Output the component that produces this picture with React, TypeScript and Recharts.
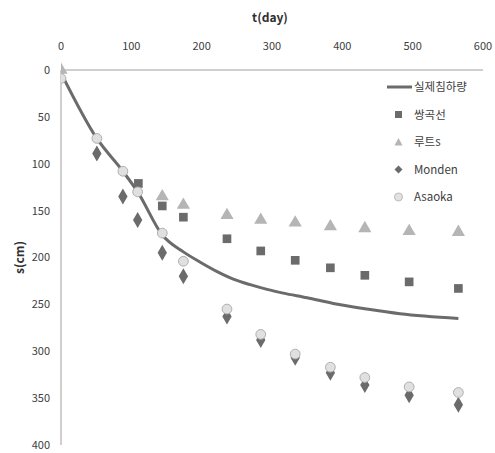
import {
  ComposedChart,
  Line,
  Scatter,
  XAxis,
  YAxis,
  ZAxis,
} from 'recharts'

// 실제침하량 (measured settlement curve)
const measuredT = [0, 51, 88, 109, 144, 174, 198, 222, 245, 269, 293, 316, 350, 387, 435, 482, 565]
const measuredS = [3, 73, 108, 130, 176, 194, 205, 215, 223, 229, 234, 238, 243, 249, 255, 260, 265]

// 쌍곡선
const hyperT = [110, 144, 174, 236, 284, 333, 383, 432, 495, 565]
const hyperS = [121, 145, 157, 180, 193, 203, 211, 219, 226, 233]

// 루트s
const rootT = [0, 144, 174, 236, 284, 333, 383, 432, 495, 565]
const rootS = [0, 135, 144, 155, 160, 163, 167, 169, 172, 173]

// Monden
const mondenT = [51, 88, 109, 144, 174, 236, 284, 333, 383, 432, 495, 565]
const mondenS = [89, 135, 160, 195, 220, 263, 288, 307, 323, 336, 347, 357]

// Asaoka
const asaokaT = [0, 51, 88, 109, 144, 174, 236, 284, 333, 383, 432, 495, 565]
const asaokaS = [9, 73, 108, 130, 174, 204, 255, 282, 303, 317, 328, 338, 344]

const xTicks = [0, 100, 200, 300, 400, 500, 600]
const yTicks = [0, 50, 100, 150, 200, 250, 300, 350, 400]

const zip = (t: number[], s: number[]) => t.map((v, i) => ({ t: v, s: s[i] }))

const FONT = '"Noto Sans CJK KR", "Noto Sans", sans-serif'
const DARK = '#6b6b6b'
const LIGHT = '#b5b5b5'

function LegendBox() {
  const rows = [
    { label: '실제침하량', kind: 'line' },
    { label: '쌍곡선', kind: 'square' },
    { label: '루트s', kind: 'triangle' },
    { label: 'Monden', kind: 'diamond' },
    { label: 'Asaoka', kind: 'circle' },
  ]
  return (
    <svg width={110} height={130} style={{ display: 'block' }}>
      {rows.map((r, i) => {
        const cy = 8 + i * 27.5
        let mark = null
        if (r.kind === 'line') mark = <line x1={2} x2={27} y1={cy} y2={cy} stroke={DARK} strokeWidth={3} />
        if (r.kind === 'square') mark = <rect x={10} y={cy - 3.5} width={7} height={7} fill={DARK} />
        if (r.kind === 'triangle') mark = <polygon points={`${13.5},${cy - 4} ${17.5},${cy + 3.5} ${9.5},${cy + 3.5}`} fill={LIGHT} />
        if (r.kind === 'diamond') mark = <polygon points={`${13.5},${cy - 4} ${17.5},${cy} ${13.5},${cy + 4} ${9.5},${cy}`} fill={DARK} />
        if (r.kind === 'circle') mark = <circle cx={13.5} cy={cy} r={4} fill="#e2e2e2" stroke="#bbbbbb" />
        return (
          <g key={r.label}>
            {mark}
            <text x={29} y={cy + 4} fontSize={11.5} fill="#404040" fontFamily={FONT}>{r.label}</text>
          </g>
        )
      })}
    </svg>
  )
}

export default function App() {
  return (
    <div style={{ position: 'absolute', left: 0, top: 0, width: 495, height: 453, background: '#fff' }}>
      <ComposedChart width={495} height={453} margin={{ top: 40, right: 12, bottom: 8, left: 21 }}>
        <XAxis
          type="number"
          dataKey="t"
          orientation="top"
          domain={[0, 600]}
          ticks={xTicks}
          height={30}
          tickLine={false}
          tickSize={0}
          tickMargin={20}
          stroke="#a0a0a0"
          tick={{ fontSize: 11, fill: '#404040', fontFamily: FONT }}
          allowDataOverflow
        />
        <YAxis
          type="number"
          dataKey="s"
          reversed
          domain={[0, 400]}
          ticks={yTicks}
          width={40}
          tickLine={false}
          tickSize={0}
          tickMargin={11}
          stroke="#a0a0a0"
          tick={{ fontSize: 11, fill: '#404040', fontFamily: FONT }}
        />
        <ZAxis range={[75, 75]} />
        <Line
          data={zip(measuredT, measuredS)}
          dataKey="s"
          type="monotone"
          stroke={DARK}
          strokeWidth={3}
          dot={false}
          activeDot={false}
          isAnimationActive={false}
        />
        <Scatter data={zip(hyperT, hyperS)} dataKey="s" shape="square" fill={DARK} isAnimationActive={false} />
        <Scatter data={zip(rootT, rootS)} dataKey="s" shape="triangle" fill={LIGHT} isAnimationActive={false} />
        <Scatter data={zip(mondenT, mondenS)} dataKey="s" shape="diamond" fill={DARK} isAnimationActive={false} />
        <Scatter data={zip(asaokaT, asaokaS)} dataKey="s" shape="circle" fill="#e0e0e0" stroke="#b0b0b0" isAnimationActive={false} />
      </ComposedChart>
      <div style={{ position: 'absolute', left: 385, top: 79 }}>
        <LegendBox />
      </div>
      <div
        style={{
          position: 'absolute', left: 245, top: 8, width: 50, textAlign: 'center',
          fontFamily: FONT, fontWeight: 'bold', fontSize: 12, color: '#303030',
        }}
      >
        t(day)
      </div>
      <div
        style={{
          position: 'absolute', left: -7, top: 249, width: 50, textAlign: 'center',
          transform: 'rotate(-90deg)', fontFamily: FONT, fontWeight: 'bold', fontSize: 12, color: '#303030',
        }}
      >
        s(cm)
      </div>
    </div>
  )
}
